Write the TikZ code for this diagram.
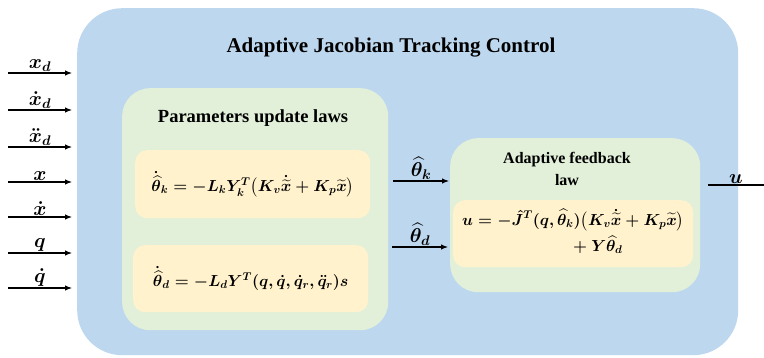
\RequirePackage{fix-cm}
\documentclass[tikz,border=0pt]{standalone}
\usepackage{amsmath,amssymb}
\usepackage{fontspec}
\setmainfont{Liberation Serif}
\usetikzlibrary{arrows.meta, positioning}
\definecolor{ctrlblue}{HTML}{BDD7EE}
\definecolor{lawgreen}{HTML}{E2F0D9}
\definecolor{eqyellow}{HTML}{FFF2CC}

\begin{document}
\begin{tikzpicture}[x=1pt, y=-1pt,
  outer/.style={rectangle, rounded corners=45pt, fill=ctrlblue, inner sep=0pt,
                minimum width=661pt, minimum height=347pt, anchor=north west},
  lawbox/.style={rectangle, rounded corners=28pt, fill=lawgreen, inner sep=0pt, anchor=north west},
  eqbox/.style={rectangle, rounded corners=12pt, fill=eqyellow, inner sep=0pt, anchor=north west,
                font=\fontsize{16}{22}\selectfont\boldmath},
  heading/.style={font=\fontsize{18.5}{20}\selectfont\bfseries, align=center},
  lbl/.style={font=\fontsize{20}{22}\selectfont\boldmath, inner sep=1pt},
  arr/.style={-{Latex[length=7pt, width=5.5pt]}, line width=1.1pt}
]
\useasboundingbox (0,0) rectangle (764,358);

% outer block
\node[outer] (ctrl) at (77,8) {};
\node[font=\fontsize{21}{24}\selectfont\bfseries] (title) at (391,48) {Adaptive Jacobian Tracking Control};

% parameter update laws
\node[lawbox, minimum width=266pt, minimum height=242pt] (params) at (122,88) {};
\node[heading] (ptitle) at (253,118) {Parameters update laws};
\node[eqbox, minimum width=235pt, minimum height=68pt] (eqk) at (135,150)
  {$\dot{\widehat{\theta}}_k = -L_k Y_k^T\big(K_v \dot{\widetilde{x}} + K_p \widetilde{x}\big)$};
\node[eqbox, minimum width=235pt, minimum height=67pt] (eqd) at (133,245)
  {$\dot{\widehat{\theta}}_d = -L_d Y^T(q, \dot{q}, \dot{q}_r, \ddot{q}_r)s$};

% feedback law
\node[lawbox, minimum width=250pt, minimum height=154pt] (fb) at (450,138) {};
\node[heading, font=\fontsize{16}{22}\selectfont\bfseries] (fbtitle) at (567,169) {Adaptive feedback\\law};
\node[eqbox, minimum width=240pt, minimum height=67pt] (equ) at (453,200)
  {$\begin{aligned} u &= -\hat{J}^T(q, \widehat{\theta}_k)\big(K_v \dot{\widetilde{x}} + K_p \widetilde{x}\big)\\
   &\hspace{6em} + Y \widehat{\theta}_d \end{aligned}$};

% inputs
\foreach \y/\sig [count=\i] in {73/x_d, 110/\dot{x}_d, 147/\ddot{x}_d, 182/x,
                                217/\dot{x}, 253/q, 288/\dot{q}}{
  \coordinate (in\i) at (8,\y);
  \coordinate (inend\i) at (72,\y);
  \draw[arr] (in\i) -- node[lbl, above] {$\sig$} (inend\i);
}

% estimates to feedback law
\coordinate (thk) at (393,181);
\coordinate (thd) at (392,247);
\draw[arr] (thk) -- node[lbl, above] {$\widehat{\theta}_k$} ([xshift=-1pt]fb.west |- thk);
\draw[arr] (thd) -- node[lbl, above] {$\widehat{\theta}_d$} ([xshift=-2pt]fb.west |- thd);

% output
\coordinate (ustart) at (708,185);
\coordinate (uend) at (764,185);
\draw[line width=1.1pt] (ustart) -- node[lbl, above] {$u$} (uend);
\end{tikzpicture}
\end{document}
